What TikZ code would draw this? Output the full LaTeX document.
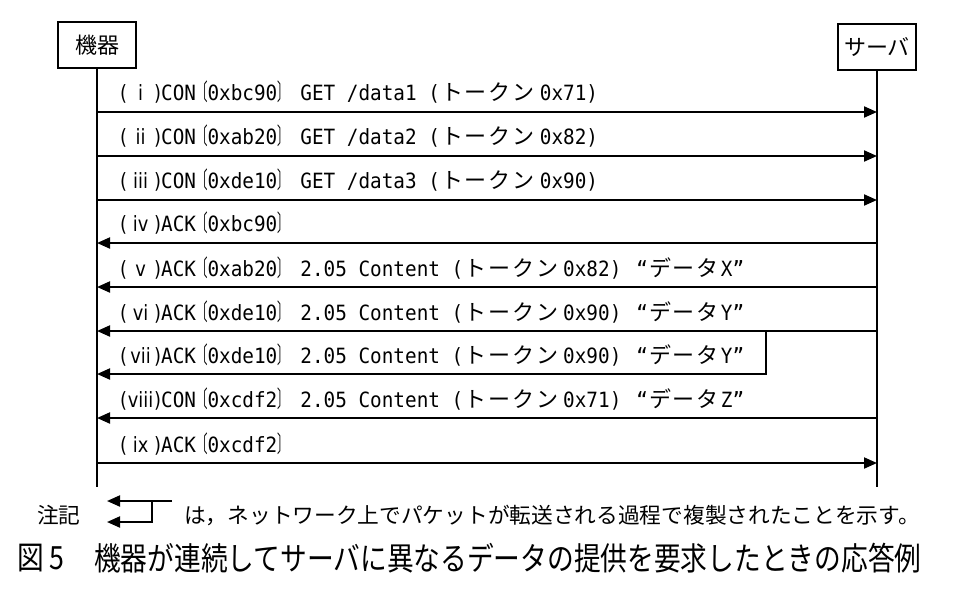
\documentclass[tikz,border=0pt]{standalone}
\usepackage{fontspec}
\usepackage{graphicx}
\setmainfont{Noto Sans CJK JP}
\newfontfamily\jpf{Noto Sans CJK JP}
\newfontfamily\kataf[LetterSpace=9]{Noto Sans CJK JP}
\newfontfamily\monof[FakeStretch=0.92]{DejaVu Sans Mono}
\newfontfamily\sansf[FakeStretch=0.85]{DejaVu Sans}
\usetikzlibrary{arrows.meta}
\newcommand\kj[1]{{\kataf\fontsize{22pt}{22pt}\selectfont #1}}
\newcommand\br[1]{{\jpf\fontsize{23pt}{23pt}\selectfont #1}}
\newcommand\lb{\scalebox{0.5}[1]{\br{〔}}}
\newcommand\rb{\scalebox{0.5}[1]{\br{〕}}}
\newcommand\rn[1]{{\sansf(\makebox[27pt][c]{#1})}}
\newcommand\tk[1]{(\hspace{1pt}\kj{トークン}\hspace{5pt}#1)}
\newcommand\dq[1]{\hspace{15pt}“\hspace{1pt}\kj{データ}\hspace{2pt}#1”}
\tikzset{
  actor/.style={draw, line width=2pt, minimum width=78pt, minimum height=46pt, inner sep=0pt,
    font=\jpf\fontsize{22pt}{22pt}\selectfont},
  life/.style={line width=2pt},
  msg/.style={line width=2pt, -{Triangle[length=13pt,width=11pt]}},
  lbl/.style={anchor=base west, inner sep=0pt, font=\monof\fontsize{21pt}{22pt}\selectfont},
  note/.style={anchor=west, inner sep=0pt, font=\jpf\fontsize{21.7pt}{22pt}\selectfont},
  ttl/.style={anchor=west, inner sep=0pt, font=\jpf\fontsize{32pt}{32pt}\selectfont}
}
\begin{document}
\begin{tikzpicture}[x=1pt,y=-1pt]
\useasboundingbox (0,0) rectangle (968,600);
\node[actor] (dev) at (97,45) {機器};
\node[actor] (srv) at (877,47) {サーバ};
\coordinate (devend) at (97,487);
\coordinate (srvend) at (877,487);
\draw[life] (dev.south) -- (devend);
\draw[life] (srv.south) -- (srvend);
\foreach \n/\y in {1/112,2/156,3/200,4/243,5/287,6/331,7/374,8/418,9/463}{
  \coordinate (d\n) at (97,\y);
  \coordinate (s\n) at (877,\y);
}
\coordinate (b7) at (766,331);
\coordinate (c7) at (766,374);
\draw[msg] (d1) -- (s1);
\draw[msg] (d2) -- (s2);
\draw[msg] (d3) -- (s3);
\draw[msg] (s4) -- (d4);
\draw[msg] (s5) -- (d5);
\draw[msg] (s6) -- (d6);
\draw[msg] (b7) -- (c7) -- (d7);
\draw[msg] (s8) -- (d8);
\draw[msg] (d9) -- (s9);
\node[lbl] (l1) at (120,100) {\rn{i}CON\lb 0xbc90\rb\ GET /data1 \tk{0x71}};
\node[lbl] (l2) at (120,144) {\rn{ii}CON\lb 0xab20\rb\ GET /data2 \tk{0x82}};
\node[lbl] (l3) at (120,188) {\rn{iii}CON\lb 0xde10\rb\ GET /data3 \tk{0x90}};
\node[lbl] (l4) at (120,231) {\rn{iv}ACK\lb 0xbc90\rb};
\node[lbl] (l5) at (120,276) {\rn{v}ACK\lb 0xab20\rb\ 2.05 Content \tk{0x82}\dq{X}};
\node[lbl] (l6) at (120,320) {\rn{vi}ACK\lb 0xde10\rb\ 2.05 Content \tk{0x90}\dq{Y}};
\node[lbl] (l7) at (120,363) {\rn{vii}ACK\lb 0xde10\rb\ 2.05 Content \tk{0x90}\dq{Y}};
\node[lbl] (l8) at (120,407) {\rn{viii}CON\lb 0xcdf2\rb\ 2.05 Content \tk{0x71}\dq{Z}};
\node[lbl] (l9) at (120,452) {\rn{ix}ACK\lb 0xcdf2\rb};
% note
\node[note] (nt) at (37,515) {注記};
\coordinate (nA) at (172,501);
\coordinate (nB) at (107,501);
\coordinate (nC) at (152,501);
\coordinate (nD) at (107,522);
\draw[msg] (nA) -- (nB);
\draw[msg] (nC) |- (nD);
\node[note] (nx) at (184,515) {は，ネットワーク上でパケットが転送される過程で複製されたことを示す。};
% title
\node[ttl] (fig) at (17,558) {\scalebox{0.835}[1]{図}};
\node[ttl] (fn) at (49,558) {\scalebox{0.835}[1]{5}};
\node[ttl] (cap) at (94,558) {\scalebox{0.835}[1]{機器が連続してサーバに異なるデータの提供を要求したときの応答例}};
\end{tikzpicture}
\end{document}
